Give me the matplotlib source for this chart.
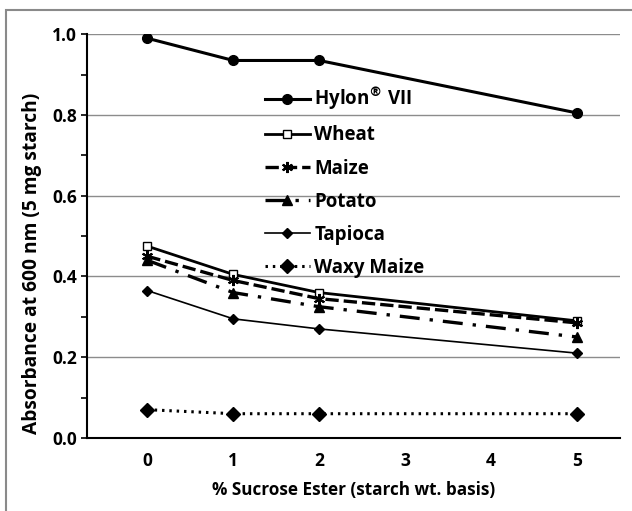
import matplotlib
matplotlib.use("Agg")
import matplotlib.pyplot as plt
from matplotlib.patches import Rectangle
from matplotlib.ticker import MultipleLocator, FormatStrFormatter

plt.rcParams["font.family"] = ["Open Sans", "DejaVu Sans"]
plt.rcParams["font.weight"] = "bold"

ester = [0, 1, 2, 5]
hylon = [0.99, 0.935, 0.935, 0.805]
wheat = [0.475, 0.405, 0.36, 0.29]
maize = [0.45, 0.39, 0.345, 0.285]
potato = [0.44, 0.36, 0.325, 0.25]
tapioca = [0.365, 0.295, 0.27, 0.21]
waxy_maize = [0.07, 0.06, 0.06, 0.06]

fig = plt.figure(figsize=(6.32, 5.11), dpi=100)
ax = fig.add_axes([0.138, 0.143, 0.843, 0.790])

# outer frame around the figure
fig.patches.append(Rectangle((0.010, -0.05), 1.2, 1.03, transform=fig.transFigure,
                             fill=False, edgecolor="#8a8a8a", linewidth=1.5))

ax.plot(ester, hylon, color="black", lw=2.2, marker="o", ms=7, label="Hylon$^{®}$ VII")
ax.plot(ester, wheat, color="black", lw=2.0, marker="s", ms=6, mfc="white", mew=1.0,
        label="Wheat")
ax.plot(ester, maize, color="black", lw=2.4, ls=(0, (4, 1.5)), marker=(6, 2, 0), ms=8,
        mew=1.5, label="Maize")
ax.plot(ester, potato, color="black", lw=2.4, ls=(0, (6, 3, 1, 3)), marker="^", ms=7,
        label="Potato")
ax.plot(ester, tapioca, color="black", lw=1.2, marker="D", ms=5, label="Tapioca")
ax.plot(ester, waxy_maize, color="black", lw=2.2, ls=(0, (0.8, 1.6)), marker="D", ms=7,
        label="Waxy Maize")

ax.set_xlim(-0.7, 5.5)
ax.set_ylim(0, 1.0)
ax.yaxis.set_major_locator(MultipleLocator(0.2))
ax.yaxis.set_minor_locator(MultipleLocator(0.1))
ax.set_xticks([0, 1, 2, 3, 4, 5])
ax.yaxis.set_major_formatter(FormatStrFormatter("%.1f"))
ax.grid(axis="y", color="#8c8c8c", lw=1.0)
ax.set_axisbelow(True)

for side in ("top", "right"):
    ax.spines[side].set_visible(False)
ax.spines["left"].set_linewidth(1.5)
ax.spines["bottom"].set_linewidth(1.5)
ax.tick_params(axis="x", length=0, labelsize=12.5, pad=10)
ax.tick_params(axis="y", which="both", direction="out", length=4, width=1.2, labelsize=12.5)

ax.set_xlabel("% Sucrose Ester (starch wt. basis)", fontsize=12.3, fontweight="bold",
              labelpad=8)
ax.set_ylabel("Absorbance at 600 nm (5 mg starch)", fontsize=13.8, fontweight="bold")
ax.yaxis.set_label_coords(-0.085, 0.432)

ax.legend(loc="upper left", bbox_to_anchor=(0.392, 0.865), bbox_transform=fig.transFigure,
          frameon=False, handlelength=2.4, handletextpad=0.25,
          labelspacing=0.7, prop={"weight": "bold", "size": 13.5})

fig.savefig("out.png", dpi=100)
